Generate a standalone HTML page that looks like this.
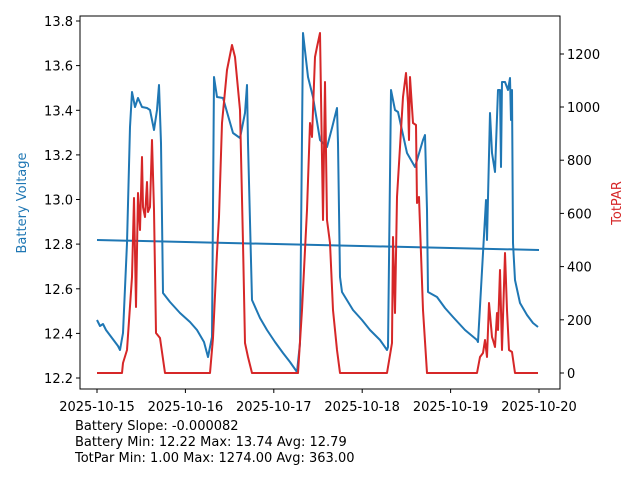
<!DOCTYPE html>
<html><head><meta charset="utf-8"><style>
body{margin:0;background:#fff;}
svg text{font-family:"DejaVu Sans","Liberation Sans",sans-serif;font-size:13px;fill:#000;}
</style></head><body>
<svg width="640" height="480" viewBox="0 0 640 480" xmlns="http://www.w3.org/2000/svg">
<rect width="640" height="480" fill="#fff"/>
<g fill="none" stroke-linejoin="round" stroke-width="2">
<polyline stroke="#1f77b4" points="97,240 539,250"/>
<polyline stroke="#1f77b4" points="97,320 100,326 103,324 106,330 109,334 112,338 115,342 118,346 120,350 123,333 127,243 130,127 132,92 135,107 138,98 142,107 147,108 150,110 154,130 157,110 159,85 161,143 163,293 170,302 180,313 190,322 197,330 204,342 208,357 212,337 214,77 217,97 223,98 233,133 240,138 245,113 247,85 248,143 252,300 260,318 267,330 275,342 283,353 290,362 297,372 300,343 303,33 308,77 313,97 320,140 327,147 332,128 337,108 338,143 340,277 342,292 353,310 362,320 370,330 380,340 387,350 388,347 391,90 395,110 398,112 407,153 415,167 423,140 425,135 427,210 428,292 437,297 445,308 453,317 465,330 477,340 478,342 483,253 486,200 487,240 490,113 492,153 495,172 498,90 500,90 501,167 502,82 505,82 508,90 510,78 511,120 512,90 513,243 515,280 520,303 527,315 533,323 538,327"/>
<polyline stroke="#d62728" points="97,373 122,373 123,363 127,350 132,277 134,198 136,307 138,193 140,230 142,157 143,207 145,217 147,182 148,212 150,207 152,140 154,210 156,333 160,338 165,373 210,373 213,338 217,253 219,217 222,123 227,70 232,45 235,57 240,110 243,243 245,343 248,357 252,373 298,373 302,310 307,210 310,123 312,137 315,57 317,47 320,33 323,220 325,82 327,220 330,243 333,310 337,350 340,373 387,373 392,343 393,237 395,313 397,197 403,97 406,73 408,103 409,140 410,77 413,123 416,125 417,203 419,197 423,310 427,373 477,373 480,357 483,353 485,340 487,357 489,303 492,337 493,340 495,347 497,313 498,330 500,270 502,350 505,253 507,310 509,350 512,352 515,373 538,373"/>
</g>
<rect x="80" y="16" width="480" height="373" fill="none" stroke="#000" stroke-width="1"/>
<g stroke="#000" stroke-width="1">
<line x1="76" x2="80" y1="21" y2="21"/><line x1="76" x2="80" y1="65.6" y2="65.6"/><line x1="76" x2="80" y1="110.3" y2="110.3"/><line x1="76" x2="80" y1="154.9" y2="154.9"/><line x1="76" x2="80" y1="199.5" y2="199.5"/><line x1="76" x2="80" y1="244.1" y2="244.1"/><line x1="76" x2="80" y1="288.8" y2="288.8"/><line x1="76" x2="80" y1="333.4" y2="333.4"/><line x1="76" x2="80" y1="378" y2="378"/>
<line x1="560" x2="564" y1="373" y2="373"/><line x1="560" x2="564" y1="319.8" y2="319.8"/><line x1="560" x2="564" y1="266.6" y2="266.6"/><line x1="560" x2="564" y1="213.4" y2="213.4"/><line x1="560" x2="564" y1="160.2" y2="160.2"/><line x1="560" x2="564" y1="107" y2="107"/><line x1="560" x2="564" y1="54" y2="54"/>
<line x1="97" x2="97" y1="389" y2="393"/><line x1="185.4" x2="185.4" y1="389" y2="393"/><line x1="273.8" x2="273.8" y1="389" y2="393"/><line x1="362.2" x2="362.2" y1="389" y2="393"/><line x1="450.6" x2="450.6" y1="389" y2="393"/><line x1="539" x2="539" y1="389" y2="393"/>
</g>
<g text-anchor="end">
<text x="73" y="26">13.8</text><text x="73" y="70.6">13.6</text><text x="73" y="115.3">13.4</text><text x="73" y="159.9">13.2</text><text x="73" y="204.5">13.0</text><text x="73" y="249.1">12.8</text><text x="73" y="293.8">12.6</text><text x="73" y="338.4">12.4</text><text x="73" y="383">12.2</text>
</g>
<g>
<text x="567" y="378">0</text><text x="567" y="324.8">200</text><text x="567" y="271.6">400</text><text x="567" y="218.4">600</text><text x="567" y="165.2">800</text><text x="567" y="112">1000</text><text x="567" y="59">1200</text>
</g>
<g text-anchor="middle">
<text x="97" y="411">2025-10-15</text><text x="185.4" y="411">2025-10-16</text><text x="273.8" y="411">2025-10-17</text><text x="362.2" y="411">2025-10-18</text><text x="450.6" y="411">2025-10-19</text><text x="539" y="411">2025-10-20</text>
</g>
<text transform="translate(26,203) rotate(-90)" text-anchor="middle" style="fill:#1f77b4">Battery Voltage</text>
<text transform="translate(621,203) rotate(-90)" text-anchor="middle" style="fill:#d62728">TotPAR</text>
<text x="75" y="430">Battery Slope: -0.000082</text>
<text x="75" y="446">Battery Min: 12.22 Max: 13.74 Avg: 12.79</text>
<text x="75" y="462">TotPar Min: 1.00 Max: 1274.00 Avg: 363.00</text>
</svg>
</body></html>
